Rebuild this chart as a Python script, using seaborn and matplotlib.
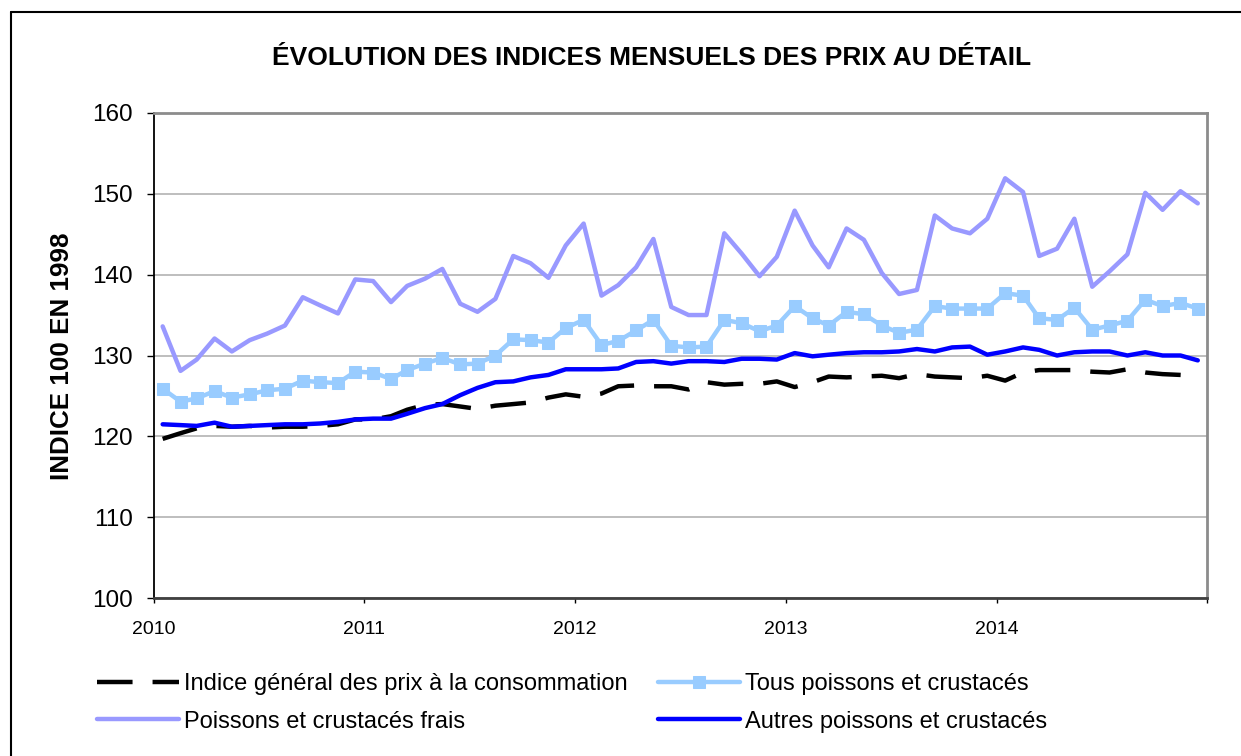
import numpy as np
import pandas as pd
import matplotlib
matplotlib.use("Agg")
import matplotlib.pyplot as plt
import matplotlib.dates as mdates
from matplotlib.lines import Line2D
import seaborn as sns

# indices mensuels, janvier 2010 -> décembre 2014
mois = pd.date_range("2010-01-01", periods=60, freq="MS") + pd.Timedelta(days=15)

indice_general = [
    119.7, 120.4, 121.0, 121.3, 121.2, 121.3, 121.1, 121.2, 121.2, 121.3, 121.5, 122.1,
    122.1, 122.5, 123.3, 123.9, 124.0, 123.7, 123.4, 123.8, 124.0, 124.2, 124.8, 125.2,
    124.9, 125.3, 126.2, 126.3, 126.2, 126.2, 125.8, 126.7, 126.4, 126.5, 126.5, 126.8,
    126.1, 126.7, 127.4, 127.3, 127.4, 127.5, 127.2, 127.7, 127.4, 127.3, 127.2, 127.5,
    126.9, 127.9, 128.2, 128.2, 128.2, 128.0, 127.9, 128.3, 127.9, 127.7, 127.6, 127.5,
]
tous_poissons = [
    125.9, 124.3, 124.7, 125.6, 124.8, 125.2, 125.7, 125.9, 126.9, 126.7, 126.6, 128.0,
    127.9, 127.1, 128.2, 129.0, 129.7, 128.9, 129.0, 130.0, 132.0, 131.9, 131.6, 133.4,
    134.4, 131.3, 131.8, 133.1, 134.4, 131.2, 131.0, 131.1, 134.4, 134.0, 133.0, 133.7,
    136.1, 134.6, 133.7, 135.4, 135.1, 133.7, 132.8, 133.2, 136.1, 135.8, 135.8, 135.8,
    137.7, 137.4, 134.6, 134.4, 135.9, 133.2, 133.7, 134.3, 136.9, 136.1, 136.5, 135.8,
]
poissons_frais = [
    133.6, 128.1, 129.5, 132.1, 130.5, 131.9, 132.7, 133.7, 137.2, 136.2, 135.2, 139.4,
    139.2, 136.6, 138.6, 139.5, 140.7, 136.4, 135.4, 137.0, 142.3, 141.4, 139.6, 143.6,
    146.3, 137.4, 138.7, 140.9, 144.4, 136.0, 135.0, 135.0, 145.1, 142.6, 139.8, 142.2,
    147.9, 143.6, 140.9, 145.7, 144.3, 140.2, 137.6, 138.1, 147.3, 145.7, 145.1, 146.9,
    151.9, 150.2, 142.3, 143.2, 146.9, 138.5, 140.4, 142.5, 150.1, 148.0, 150.3, 148.8,
]
autres_poissons = [
    121.5, 121.4, 121.3, 121.7, 121.2, 121.3, 121.4, 121.5, 121.5, 121.6, 121.8, 122.1,
    122.2, 122.2, 122.8, 123.5, 124.0, 125.1, 126.0, 126.7, 126.8, 127.3, 127.6, 128.3,
    128.3, 128.3, 128.4, 129.2, 129.3, 129.0, 129.3, 129.3, 129.2, 129.6, 129.6, 129.5,
    130.3, 129.9, 130.1, 130.3, 130.4, 130.4, 130.5, 130.8, 130.5, 131.0, 131.1, 130.1,
    130.5, 131.0, 130.7, 130.0, 130.4, 130.5, 130.5, 130.0, 130.4, 130.0, 130.0, 129.4,
]

labels = [
    "Indice général des prix à la consommation",
    "Tous poissons et crustacés",
    "Poissons et crustacés frais",
    "Autres poissons et crustacés",
]

sns.set_style("white")
plt.rcParams["font.family"] = ["Liberation Sans", "DejaVu Sans"]
plt.rcParams["text.color"] = "black"
plt.rcParams["xtick.color"] = "black"
plt.rcParams["ytick.color"] = "black"

fig = plt.figure(figsize=(12.41, 7.56), dpi=100)
ax = fig.add_axes([0.1241, 0.2086, 0.8485, 0.6423])

sns.lineplot(x=mois, y=indice_general, ax=ax, color="black", lw=3.2,
             linestyle=(0, (8, 4.5)), label=labels[0])
sns.lineplot(x=mois, y=poissons_frais, ax=ax, color="#9999ff", lw=3.2,
             label=labels[2])
sns.lineplot(x=mois, y=tous_poissons, ax=ax, color="#99ccff", lw=3.2,
             marker="s", markersize=9, markeredgecolor="#99ccff",
             markerfacecolor="#99ccff", label=labels[1])
sns.lineplot(x=mois, y=autres_poissons, ax=ax, color="#0000ff", lw=3.2,
             label=labels[3])

ax.set_xlim(pd.Timestamp("2010-01-01"), pd.Timestamp("2015-01-01"))
ax.set_ylim(100, 160)
ax.set_yticks(range(100, 161, 10))
ax.xaxis.set_major_locator(mdates.YearLocator())
ax.xaxis.set_major_formatter(plt.FuncFormatter(
    lambda v, p: "" if mdates.num2date(v).year > 2014 else mdates.num2date(v).strftime("%Y")))
ax.set_xlabel("")
ax.set_ylabel("")

ax.yaxis.grid(True, color="#b3b3b3", lw=1.2)
ax.set_axisbelow(True)
ax.spines["left"].set_color("black")
ax.spines["left"].set_linewidth(1.3)
ax.spines["bottom"].set_color("#404040")
ax.spines["bottom"].set_linewidth(2)
for s in ["top", "right"]:
    ax.spines[s].set_color("#8c8c8c")
    ax.spines[s].set_linewidth(2)

ax.tick_params(axis="y", direction="out", length=5, width=1, color="black",
               labelsize=17.5, pad=10, left=True)
ax.tick_params(axis="x", direction="out", length=3.6, width=1, color="black",
               labelsize=14, pad=13, bottom=True)

fig.text(0.5254, 0.923, "ÉVOLUTION DES INDICES MENSUELS DES PRIX AU DÉTAIL",
         ha="center", va="center", fontsize=19, fontweight="bold")
fig.text(0.05, 0.529, "INDICE 100 EN 1998", rotation=90, ha="center",
         va="center", fontsize=18.7, fontweight="bold")

handles, labs = ax.get_legend_handles_labels()
ax.get_legend().remove()
order = [labs.index(labels[i]) for i in [0, 2, 1, 3]]
fig.legend([handles[i] for i in order], [labs[i] for i in order],
           ncol=2, loc="upper left", bbox_to_anchor=(0.078, 0.110),
           frameon=False, fontsize=17, handlelength=3.5, handletextpad=0.2,
           columnspacing=1.27, labelspacing=0.67, borderaxespad=0, borderpad=0)

# cadre de la figure
fig.add_artist(Line2D([11 / 1241, 1], [1 - 11.7 / 756] * 2, color="black", lw=1.5,
                      transform=fig.transFigure))
fig.add_artist(Line2D([11 / 1241] * 2, [0, 1 - 11.7 / 756], color="black", lw=1.5,
                      transform=fig.transFigure))

fig.savefig("out.png", dpi=100)
